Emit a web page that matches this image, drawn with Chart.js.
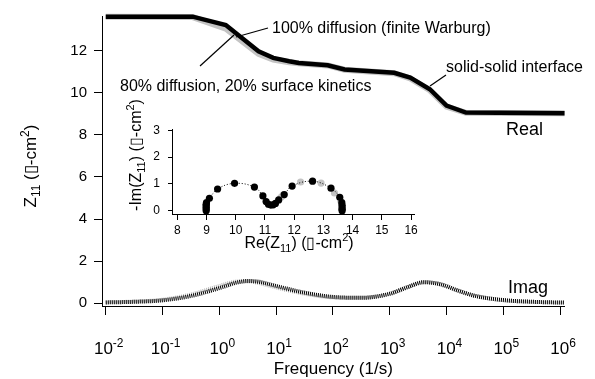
<!DOCTYPE html>
<html>
<head>
<meta charset="utf-8">
<script src="https://cdn.jsdelivr.net/npm/chart.js@4.4.0/dist/chart.umd.min.js"></script>
<style>
  body { margin: 0; background: #fff; }
  #wrap { position: relative; width: 595px; height: 379px; }
  #wrap canvas { position: absolute; left: 0; top: 0; }
</style>
</head>
<body>
<div id="wrap">
  <canvas id="mainChart" width="595" height="379"></canvas>
  <canvas id="insetChart" width="595" height="379"></canvas>
</div>
<script>
// ---- data ----
var freqReal  = [0.01, 0.34, 1.3, 4.9, 8.9, 17, 25, 81, 160, 1200, 2300, 5100, 10000, 22000, 1.2e6];
var realBlack = [13.62, 13.62, 13.22, 11.97, 11.66, 11.5, 11.42, 11.31, 11.11, 10.95, 10.72, 10.17, 9.39, 9.06, 9.03];
var realGray  = [13.62, 13.6, 13.05, 11.85, 11.58, 11.45, 11.4, 11.3, 11.1, 10.93, 10.68, 10.12, 9.35, 9.05, 9.03];

var freqImag  = [0.01, 0.032, 0.1, 0.32, 1, 2, 3.2, 5, 10, 32, 100, 320, 1000, 2000, 4000, 7900, 16000, 32000, 1e5, 3.2e5, 1.2e6];
var imagBlack = [0.04, 0.07, 0.14, 0.35, 0.72, 0.98, 1.06, 1.02, 0.82, 0.5, 0.3, 0.26, 0.45, 0.75, 1.0, 0.9, 0.6, 0.35, 0.15, 0.07, 0.03];
var imagGray  = [0.05, 0.08, 0.17, 0.42, 0.82, 1.03, 1.04, 0.96, 0.75, 0.45, 0.28, 0.26, 0.45, 0.75, 1.0, 0.9, 0.6, 0.35, 0.15, 0.07, 0.03];

var nyqReBlack = [8.99, 8.99, 8.99, 8.99, 8.99, 9.0, 9.1, 9.38, 9.96, 10.64, 10.93, 11.04, 11.12, 11.2, 11.28, 11.36, 11.47, 11.66, 11.93, 12.63, 13.26, 13.56, 13.63, 13.64, 13.64, 13.64, 13.64];
var nyqImBlack = [0.0, 0.06, 0.12, 0.18, 0.24, 0.3, 0.46, 0.81, 1.02, 0.88, 0.55, 0.34, 0.24, 0.21, 0.22, 0.27, 0.4, 0.6, 0.92, 1.1, 0.84, 0.5, 0.3, 0.2, 0.12, 0.05, 0.0];
var nyqReGray = [11.55, 11.62, 12.22, 12.92, 13.38, 13.6];
var nyqImGray = [0.5, 0.58, 1.07, 1.03, 0.66, 0.35];

var xDecades = [-2, -1, 0, 1, 2, 3, 4, 5, 6];
var yTicksMain = [0, 2, 4, 6, 8, 10, 12];
var xTicksInset = [8, 9, 10, 11, 12, 13, 14, 15, 16];
var yTicksInset = [0, 1, 2, 3];

var FONT = '"Liberation Sans", Arial, Helvetica, sans-serif';

function pts(xs, ys) {
  var out = [];
  for (var i = 0; i < xs.length; i++) out.push({x: xs[i], y: ys[i]});
  return out;
}

// text with sub/superscripts; parts = [{t, sub, sup}]
function richText(ctx, parts, x, y, size, rot, align) {
  var small = Math.round(size * 0.68);
  ctx.save();
  ctx.translate(x, y);
  if (rot) ctx.rotate(rot);
  ctx.fillStyle = '#000';
  ctx.textBaseline = 'alphabetic';
  var w = 0;
  parts.forEach(function(p){
    ctx.font = ((p.sub || p.sup) ? small : size) + 'px ' + FONT;
    p.w = ctx.measureText(p.t).width;
    w += p.w;
  });
  var cx = align === 'left' ? 0 : -w / 2;
  var base = size * 0.36;
  parts.forEach(function(p){
    ctx.font = ((p.sub || p.sup) ? small : size) + 'px ' + FONT;
    var dy = p.sup ? -size * 0.42 : (p.sub ? size * 0.25 : 0);
    ctx.fillText(p.t, cx, base + dy);
    cx += p.w;
  });
  ctx.restore();
}

function line(ctx, x1, y1, x2, y2) {
  ctx.beginPath();
  ctx.moveTo(x1, y1);
  ctx.lineTo(x2, y2);
  ctx.stroke();
}

var mainDecor = {
  id: 'mainDecor',
  afterDraw: function(chart) {
    var ctx = chart.ctx;
    var xs = chart.scales.x;
    xDecades.forEach(function(d){
      var px = xs.getPixelForValue(Math.pow(10, d));
      richText(ctx, [{t: '10'}, {t: String(d), sup: true}], px + 3, 348, 17, 0, 'center');
    });
    richText(ctx, [{t: 'Frequency (1/s)'}], (chart.chartArea.left + chart.chartArea.right) / 2, 368, 17, 0, 'center');
    richText(ctx, [{t: 'Z'}, {t: '11', sub: true}, {t: ' (\u25AF-cm'}, {t: '2', sup: true}, {t: ')'}], 30, 166, 17, -Math.PI / 2, 'center');

    ctx.save();
    ctx.strokeStyle = '#000';
    ctx.lineWidth = 1.2;
    line(ctx, 268, 28, 236, 37);
    line(ctx, 200, 66, 234, 35);
    line(ctx, 446, 75, 430, 86);
    ctx.restore();

    richText(ctx, [{t: '100% diffusion (finite Warburg)'}], 272, 27, 16, 0, 'left');
    richText(ctx, [{t: '80% diffusion, 20% surface kinetics'}], 120, 85, 16, 0, 'left');
    richText(ctx, [{t: 'solid-solid interface'}], 446, 66, 16, 0, 'left');
    richText(ctx, [{t: 'Real'}], 506, 129, 18, 0, 'left');
    richText(ctx, [{t: 'Imag'}], 508, 287, 18, 0, 'left');
  }
};

var mainChart = new Chart(document.getElementById('mainChart'), {
  type: 'line',
  data: {
    datasets: [
      {
        label: 'Real 100%', data: pts(freqReal, realBlack),
        borderColor: '#000', borderWidth: 4.5, pointRadius: 0, tension: 0, clip: false, order: 1
      },
      {
        label: 'Real 80%', data: pts(freqReal, realGray),
        borderColor: '#c4c4c4', borderWidth: 6, pointRadius: 0, tension: 0, clip: false, order: 4
      },
      {
        label: 'Imag 100%', data: pts(freqImag, imagBlack),
        borderColor: '#000', borderWidth: 4, borderDash: [1, 1], pointRadius: 0,
        cubicInterpolationMode: 'monotone', clip: false, order: 2
      },
      {
        label: 'Imag 80%', data: pts(freqImag, imagGray),
        borderColor: '#b8b8b8', borderWidth: 4, borderDash: [1, 1], pointRadius: 0,
        cubicInterpolationMode: 'monotone', clip: false, order: 3
      }
    ]
  },
  options: {
    responsive: false,
    animation: false,
    devicePixelRatio: 1,
    layout: { padding: { top: 13, right: 26, left: 0, bottom: 0 } },
    plugins: { legend: { display: false }, tooltip: { enabled: false } },
    scales: {
      x: {
        type: 'logarithmic',
        min: Math.pow(10, -2.066),
        max: Math.pow(10, 6.08),
        afterBuildTicks: function(scale){ scale.ticks = xDecades.map(function(d){ return {value: Math.pow(10, d)}; }); },
        afterFit: function(scale){ scale.height = 73; },
        ticks: { color: 'rgba(0,0,0,0)', autoSkip: false, maxRotation: 0 },
        grid: { drawOnChartArea: false, color: '#000', tickLength: 9, lineWidth: 1 },
        border: { display: true, color: '#000', width: 1 }
      },
      y: {
        min: -0.13,
        max: 13.65,
        afterBuildTicks: function(scale){ scale.ticks = yTicksMain.map(function(v){ return {value: v}; }); },
        afterFit: function(scale){ scale.width = 102; },
        ticks: { color: '#000', font: { family: FONT, size: 15 }, padding: 7 },
        grid: { drawOnChartArea: false, color: '#000', tickLength: 8, lineWidth: 1 },
        border: { display: true, color: '#000', width: 1 }
      }
    }
  },
  plugins: [mainDecor]
});

var insetDecor = {
  id: 'insetDecor',
  afterDraw: function(chart) {
    var ctx = chart.ctx;
    richText(ctx, [{t: 'Re(Z'}, {t: '11', sub: true}, {t: ') (\u25AF-cm'}, {t: '2', sup: true}, {t: ')'}], 299, 242, 16, 0, 'center');
    richText(ctx, [{t: '-Im(Z'}, {t: '11', sub: true}, {t: ') (\u25AF-cm'}, {t: '2', sup: true}, {t: ')'}], 135, 155, 16, -Math.PI / 2, 'center');
  }
};

var insetChart = new Chart(document.getElementById('insetChart'), {
  type: 'line',
  data: {
    datasets: [
      {
        label: '100%', data: pts(nyqReBlack, nyqImBlack),
        borderColor: '#000', borderWidth: 1, borderDash: [1, 2], tension: 0.4,
        pointRadius: 3.6, pointBackgroundColor: '#000', pointBorderWidth: 0, clip: false, order: 1
      },
      {
        label: '80%', data: pts(nyqReGray, nyqImGray), showLine: false,
        pointRadius: 3.6, pointBackgroundColor: '#c4c4c4', pointBorderWidth: 0, clip: false, order: 2
      }
    ]
  },
  options: {
    responsive: false,
    animation: false,
    devicePixelRatio: 1,
    layout: { padding: { top: 129, right: 181, left: 100, bottom: 100 } },
    plugins: { legend: { display: false }, tooltip: { enabled: false } },
    scales: {
      x: {
        type: 'linear',
        min: 7.82,
        max: 16.1,
        afterBuildTicks: function(scale){ scale.ticks = xTicksInset.map(function(v){ return {value: v}; }); },
        afterFit: function(scale){ scale.height = 65; },
        ticks: { color: '#000', font: { family: FONT, size: 12 }, padding: 3, maxRotation: 0, autoSkip: false },
        grid: { drawOnChartArea: false, color: '#000', tickLength: 6, lineWidth: 1 },
        border: { display: true, color: '#000', width: 1 }
      },
      y: {
        min: -0.124,
        max: 3.05,
        afterBuildTicks: function(scale){ scale.ticks = yTicksInset.map(function(v){ return {value: v}; }); },
        afterFit: function(scale){ scale.width = 72; },
        ticks: { color: '#000', font: { family: FONT, size: 12 }, padding: 8 },
        grid: { drawOnChartArea: false, color: '#000', tickLength: 4, lineWidth: 1 },
        border: { display: true, color: '#000', width: 1 }
      }
    }
  },
  plugins: [insetDecor]
});
</script>
</body>
</html>
